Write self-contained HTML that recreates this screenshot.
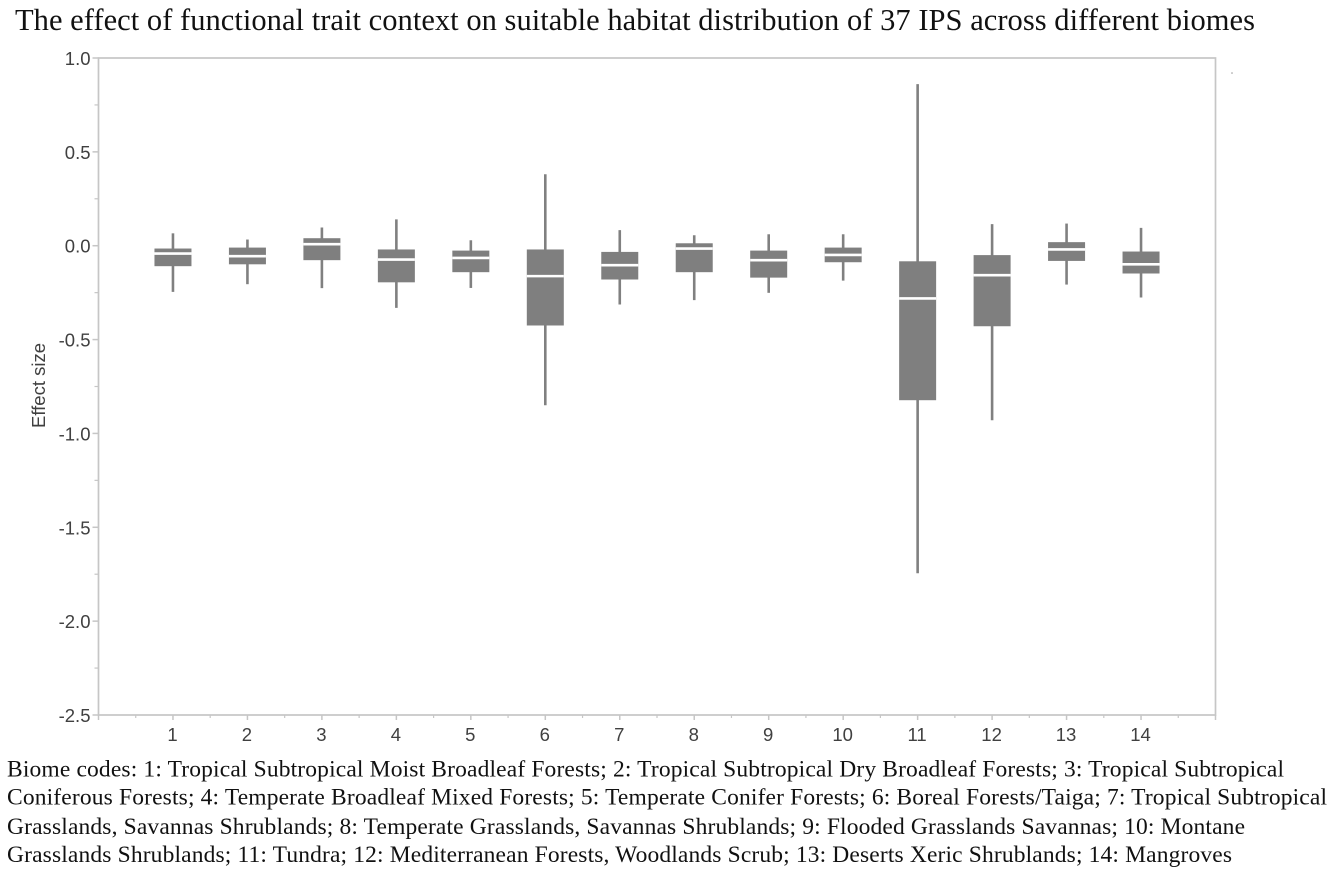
<!DOCTYPE html>
<html lang="en">
<head>
<meta charset="utf-8">
<title>Effect of functional trait context on suitable habitat distribution</title>
<style>
html,body{margin:0;padding:0;background:#fff;width:1333px;height:873px;overflow:hidden}
svg{display:block;filter:blur(0.35px)}
.serif{font-family:"Liberation Serif",serif;fill:#111}
.tick{font-family:"Liberation Sans",sans-serif;font-size:18.5px;fill:#404040}
</style>
</head>
<body>
<svg id="chart" xmlns="http://www.w3.org/2000/svg" width="1333" height="873" viewBox="0 0 1333 873">
  <text class="serif" x="15" y="30" font-size="30.5" textLength="1240" lengthAdjust="spacing">The effect of functional trait context on suitable habitat distribution of 37 IPS across different biomes</text>
  <rect x="98.5" y="58" width="1117" height="657" fill="none" stroke="#c6c6c6" stroke-width="1.7"/>
  <g id="y-axis"></g>
  <g id="x-axis"></g>
  <g id="boxes"></g>
  <text class="tick" transform="translate(45,385.5) rotate(-90)" text-anchor="middle" textLength="85" lengthAdjust="spacing">Effect size</text>
  <circle cx="1232" cy="73" r="0.8" fill="#999"/>
  <g class="serif" font-size="23.5">
    <text x="7" y="776.5" textLength="1277" lengthAdjust="spacing">Biome codes: 1: Tropical Subtropical Moist Broadleaf Forests; 2: Tropical Subtropical Dry Broadleaf Forests; 3: Tropical Subtropical</text>
    <text x="7" y="804.5" textLength="1320" lengthAdjust="spacing">Coniferous Forests; 4: Temperate Broadleaf Mixed Forests; 5: Temperate Conifer Forests; 6: Boreal Forests/Taiga; 7: Tropical Subtropical</text>
    <text x="7" y="834" textLength="1238" lengthAdjust="spacing">Grasslands, Savannas Shrublands; 8: Temperate Grasslands, Savannas Shrublands; 9: Flooded Grasslands Savannas; 10: Montane</text>
    <text x="7" y="862" textLength="1225" lengthAdjust="spacing">Grasslands Shrublands; 11: Tundra; 12: Mediterranean Forests, Woodlands Scrub; 13: Deserts Xeric Shrublands; 14: Mangroves</text>
  </g>
</svg>
<script>
const categories = ["1","2","3","4","5","6","7","8","9","10","11","12","13","14"];
const whiskerHigh = [0.066,0.033,0.097,0.14,0.029,0.381,0.083,0.056,0.061,0.061,0.861,0.115,0.118,0.095];
const boxTop = [-0.015,-0.01,0.04,-0.02,-0.026,-0.02,-0.033,0.013,-0.026,-0.01,-0.083,-0.05,0.019,-0.031];
const medians = [-0.042,-0.056,0.008,-0.074,-0.065,-0.162,-0.104,-0.015,-0.077,-0.049,-0.281,-0.157,-0.02,-0.099];
const boxBottom = [-0.109,-0.099,-0.077,-0.195,-0.141,-0.425,-0.18,-0.141,-0.17,-0.088,-0.823,-0.429,-0.081,-0.148];
const whiskerLow = [-0.246,-0.205,-0.226,-0.331,-0.225,-0.85,-0.313,-0.29,-0.251,-0.186,-1.745,-0.93,-0.207,-0.276];
const yTickLabels = ["1.0","0.5","0.0","-0.5","-1.0","-1.5","-2.0","-2.5"];
const yMinorTicks = [0.75,0.25,-0.25,-0.75,-1.25,-1.75,-2.25];

const NS = "http://www.w3.org/2000/svg";
const plot = {left:98.5,right:1215.5,top:58,bottom:715,xMin:0,xMax:15,yMin:-2.5,yMax:1};
function xScale(v){return plot.left+(v-plot.xMin)/(plot.xMax-plot.xMin)*(plot.right-plot.left);}
function yScale(v){return plot.bottom-(v-plot.yMin)/(plot.yMax-plot.yMin)*(plot.bottom-plot.top);}
function make(tag,attrs,parent){
  const el=document.createElementNS(NS,tag);
  for(const k in attrs){el.setAttribute(k,attrs[k]);}
  parent.appendChild(el);
  return el;
}
const yAxis=document.getElementById("y-axis");
const xAxis=document.getElementById("x-axis");
const boxes=document.getElementById("boxes");
const axisColor="#c6c6c6";

yTickLabels.forEach(function(label){
  const y=yScale(parseFloat(label));
  const t=make("line",{x1:plot.left-6,x2:plot.left,y1:y,y2:y,stroke:axisColor,"stroke-width":1.5},yAxis);
  
  
  const txt=make("text",{x:plot.left-8,y:y+7,"text-anchor":"end","class":"tick"},yAxis);
  txt.textContent=label;
  
  
});
yMinorTicks.forEach(function(v){
  const y=yScale(v);
  const t=make("line",{x1:plot.left-4,x2:plot.left,y1:y,y2:y,stroke:axisColor,"stroke-width":1.2},yAxis);
  
  
});
for(let i=0;i<=categories.length+1;i++){
  const x=xScale(i);
  const t=make("line",{x1:x,x2:x,y1:plot.bottom,y2:plot.bottom+5,stroke:axisColor,"stroke-width":1.5},xAxis);
  
  
  if(i<=categories.length){
    const m=make("line",{x1:xScale(i+0.5),x2:xScale(i+0.5),y1:plot.bottom,y2:plot.bottom+3,stroke:axisColor,"stroke-width":1.2},xAxis);
    
    
  }
}
categories.forEach(function(label,i){
  const txt=make("text",{x:xScale(i+1)-0.5,y:741,"text-anchor":"middle","class":"tick"},xAxis);
  txt.textContent=label;
  
  
});
categories.forEach(function(label,i){
  const x=xScale(i+1);
  const g=make("g",{},boxes);
  
  
  const w=make("line",{x1:x,x2:x,y1:yScale(whiskerHigh[i]),y2:yScale(whiskerLow[i]),stroke:"#808080","stroke-width":2.6},g);
  
  
  const top=yScale(boxTop[i]),bottom=yScale(boxBottom[i]);
  const r=make("rect",{x:x-18.5,y:top,width:37,height:bottom-top,fill:"#7f7f7f"},g);
  
  
  const m=make("line",{x1:x-18.5,x2:x+18.5,y1:yScale(medians[i]),y2:yScale(medians[i]),stroke:"#fff","stroke-width":2.6},g);
  
  
});
</script>
</body>
</html>
